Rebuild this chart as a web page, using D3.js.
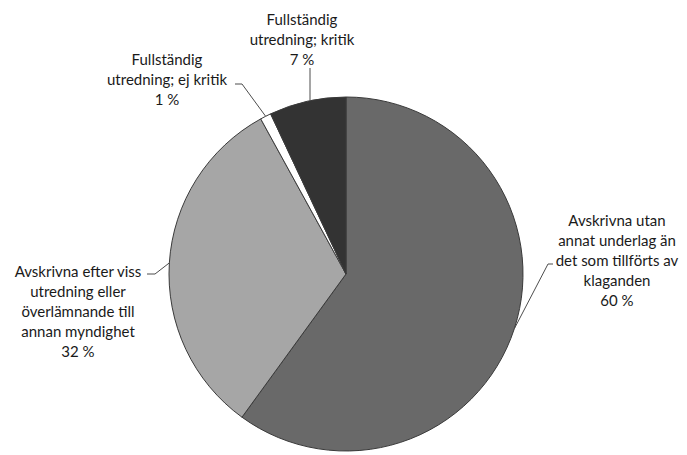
<!DOCTYPE html>
<html>
<head>
<meta charset="utf-8">
<script src="https://cdn.jsdelivr.net/npm/d3@7"></script>
<style>
  html, body { margin: 0; padding: 0; background: #fff; }
  svg text { font-family: Lato, "Open Sans", sans-serif; fill: #1a1a1a; }
</style>
</head>
<body>
<svg id="chart" width="687" height="455"></svg>
<script>
// Ärendekategorier och andelar (procent)
const categories = [
  "Avskrivna utan annat underlag än det som tillförts av klaganden",
  "Avskrivna efter viss utredning eller överlämnande till annan myndighet",
  "Fullständig utredning; ej kritik",
  "Fullständig utredning; kritik"
];
const shares = [60, 32, 1, 7];
const shareLabels = ["60 %", "32 %", "1 %", "7 %"];
// Radbrytningar för etiketterna
const labelLines = [
  ["Avskrivna utan", "annat underlag än", "det som tillförts av", "klaganden"],
  ["Avskrivna efter viss", "utredning eller", "överlämnande till", "annan myndighet"],
  ["Fullständig", "utredning; ej kritik"],
  ["Fullständig", "utredning; kritik"]
];
const sliceColors = ["#696969", "#a6a6a6", "#ffffff", "#333333"];

// Layout
const cx = 346, cy = 274, R = 177;
const lineH = 20;
// label anchor: x centre, first baseline, and leader line start (elbow)
const labelLayout = [
  { x: 617, y: 226, leader: [[553, 264], [548, 264]] },
  { x: 78,  y: 277, leader: [[147, 274], [155, 274]] },
  { x: 167, y: 65,  leader: [[235, 84], [242, 84]] },
  { x: 302, y: 25,  leader: [[310, 68]] }
];

const svg = d3.select("#chart");
const g = svg.append("g").attr("transform", `translate(${cx},${cy})`);

const pie = d3.pie().sort(null).value(d => d.value);
const arcs = pie(shares.map((v, i) => ({ value: v, i })));
const arc = d3.arc().innerRadius(0).outerRadius(R);

g.selectAll("path.slice")
  .data(arcs)
  .join("path")
  .attr("class", "slice")
  .attr("d", arc)
  .attr("fill", d => sliceColors[d.data.i])
  .attr("stroke", "#3a3a3a")
  .attr("stroke-width", 1)
  .attr("stroke-linejoin", "round");

// Leader lines end on the outer edge at each slice's mid-angle
arcs.forEach(d => {
  const L = labelLayout[d.data.i];
  const mid = (d.startAngle + d.endAngle) / 2;
  let end = [cx + R * Math.sin(mid), cy - R * Math.cos(mid)];
  const pts = L.leader.slice();
  if (L.leader.length === 1) {
    // vertical drop to the arc
    const x = L.leader[0][0];
    end = [x, cy - Math.sqrt(R * R - (x - cx) * (x - cx))];
  }
  pts.push(end);
  svg.append("path")
    .attr("d", d3.line()(pts))
    .attr("fill", "none")
    .attr("stroke", "#4d4d4d")
    .attr("stroke-width", 1);
});

// Labels
labelLayout.forEach((L, i) => {
  const lines = labelLines[i].concat([shareLabels[i]]);
  const t = svg.append("text")
    .attr("text-anchor", "middle")
    .attr("font-size", 15);
  lines.forEach((s, k) => {
    t.append("tspan")
      .attr("x", L.x)
      .attr("y", L.y + k * lineH)
      .text(s);
  });
});
</script>
</body>
</html>
